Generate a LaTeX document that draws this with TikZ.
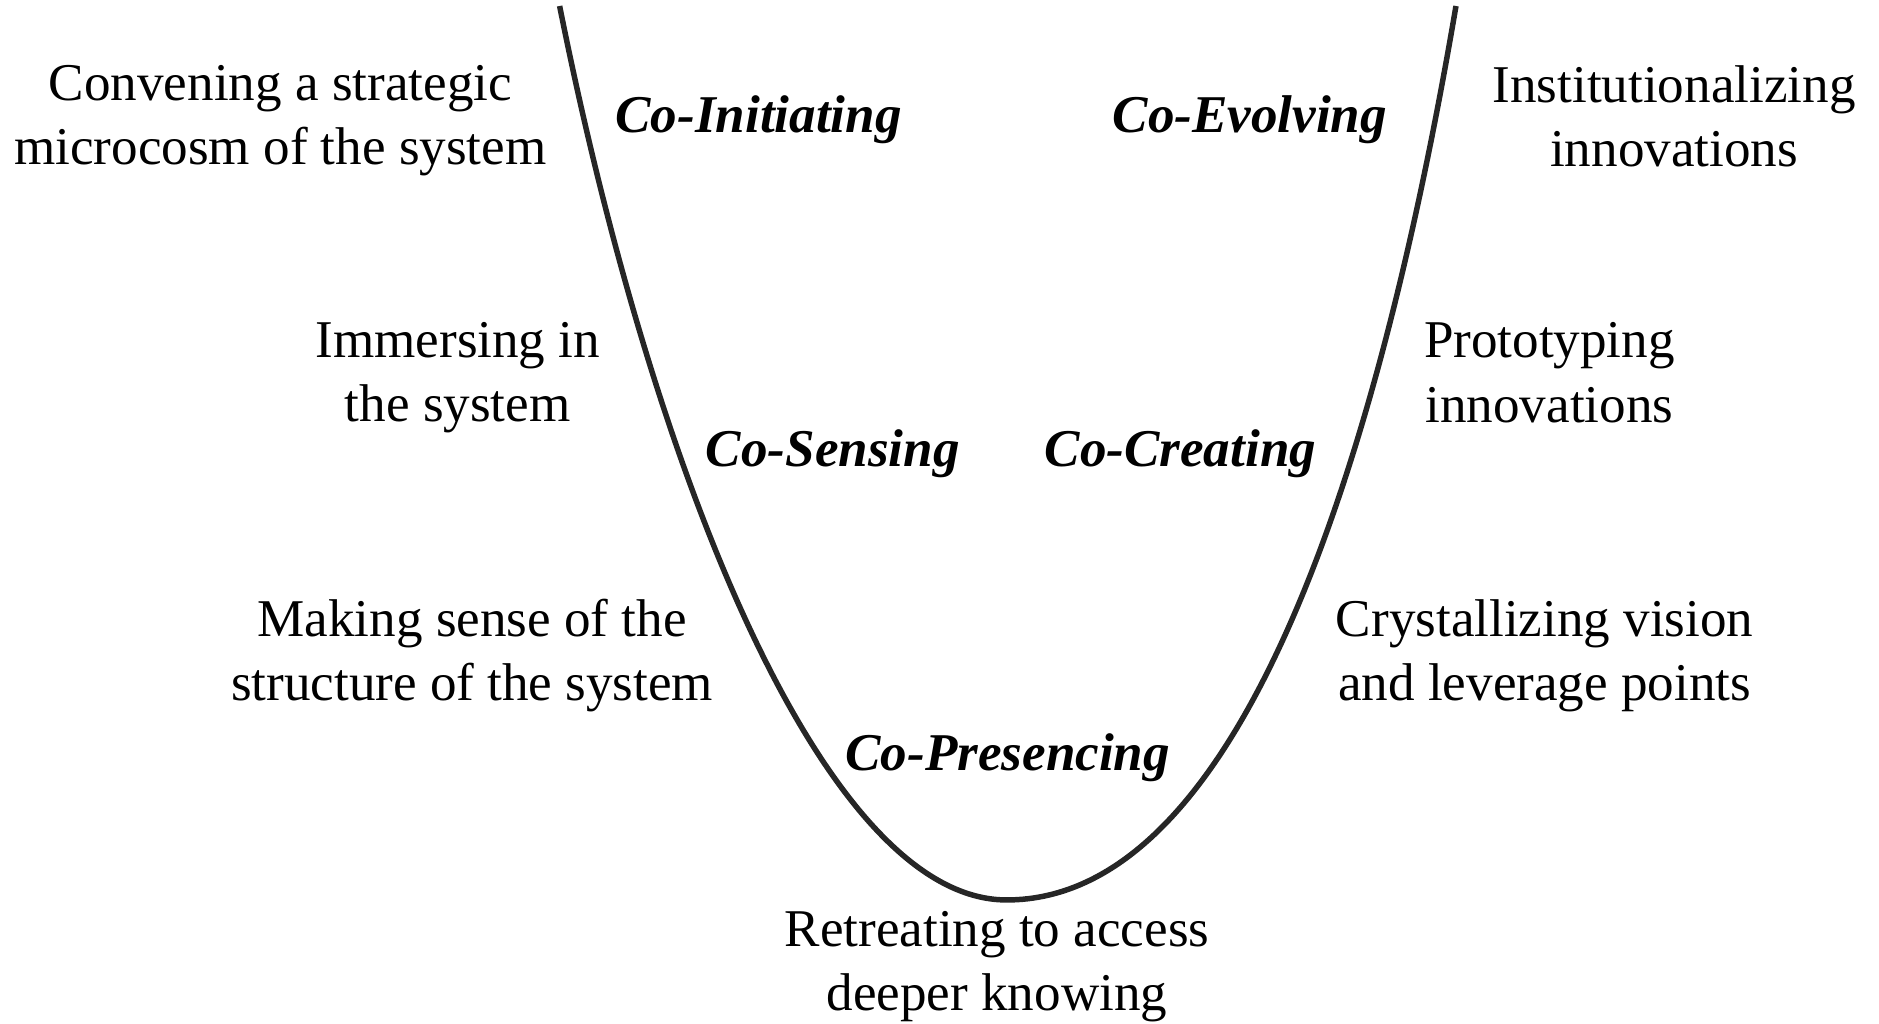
\documentclass[tikz,border=0pt]{standalone}
\usepackage{fontspec}
\setmainfont{Liberation Serif}
\usepackage{xcolor}
\usepackage{tikz}
\usetikzlibrary{positioning}

\tikzset{
    activity/.style={align=center, inner sep=0pt, font=\fontsize{12.6}{15.2}\selectfont},
    phase/.style={inner sep=0pt, font=\fontsize{12.6}{15.2}\selectfont\bfseries\itshape},
    ucurve/.style={line width=1.3pt, color=black!85}
}

\begin{document}
\begin{tikzpicture}[x=0.01cm, y=0.01cm]
                \useasboundingbox (0,0) rectangle (1568,-854);

                % the U
                \draw[ucurve] (467,-5) .. controls (547,-405) and (690,-751) .. (840,-751)
                                       .. controls (1030,-751) and (1147,-405) .. (1215,-5);

                % left side
                \node [activity] (conv) at (234,-101)
                            {Convening a strategic\\microcosm of the system};
                \node [activity] (imm) at (382,-315)
                            {Immersing in\\the system};
                \node [activity] (sense) at (394,-547)
                            {Making sense of the\\structure of the system};

                % bottom
                \node [activity] (retreat) at (832,-807)
                            {Retreating to access\\deeper knowing};

                % right side
                \node [activity] (inst) at (1397,-97)
                            {Institutionalizing\\innovations};
                \node [activity] (proto) at (1293,-311)
                            {Prototyping\\innovations};
                \node [activity] (cryst) at (1289,-547)
                            {Crystallizing vision\\and leverage points};

                % phases
                \node [phase] (coinit) at (633,-100) {Co-Initiating};
                \node [phase] (coevol) at (1043,-100) {Co-Evolving};
                \node [phase] (cosens) at (695,-379) {Co-Sensing};
                \node [phase] (cocreat) at (985,-379) {Co-Creating};
                \node [phase] (copres) at (841,-632) {Co-Presencing};
            \end{tikzpicture}
\end{document}
